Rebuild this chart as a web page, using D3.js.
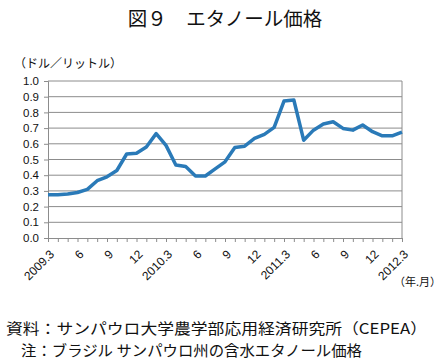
<!DOCTYPE html>
<html>
<head>
<meta charset="utf-8">
<script src="https://d3js.org/d3.v7.min.js"></script>
<style>
  body { margin: 0; background: #fff; }
  text { font-family: "Noto Sans CJK JP", "Noto Sans", sans-serif; fill: #111; }
</style>
</head>
<body>
<div id="chart"></div>
<script>
// monthly values 2009.3 - 2012.3 (USD per litre)
const months = d3.range(37);
const prices = [
  0.275, 0.275, 0.28, 0.29, 0.31, 0.365, 0.39, 0.43, 0.535, 0.54,
  0.58, 0.665, 0.59, 0.465, 0.455, 0.395, 0.395, 0.44, 0.485, 0.577,
  0.585, 0.634, 0.66, 0.705, 0.872, 0.879, 0.623, 0.687, 0.726, 0.74,
  0.698, 0.687, 0.72, 0.677, 0.651, 0.651, 0.675
];
const tickLabels = ["2009.3", "6", "9", "12", "2010.3", "6", "9", "12", "2011.3", "6", "9", "12", "2012.3"];
const yTicks = d3.range(0, 11).map(d => d / 10);

const width = 446, height = 363;
const plotLeft = 48, plotRight = 402, plotTop = 81, plotBottom = 238;

const svg = d3.select("#chart").append("svg")
  .attr("width", width)
  .attr("height", height);

const x = d3.scaleLinear().domain([0, 36]).range([plotLeft, plotRight]);
const y = d3.scaleLinear().domain([0, 1]).range([plotBottom, plotTop]);

// title
svg.append("text")
  .attr("x", 225).attr("y", 26)
  .attr("text-anchor", "middle")
  .style("font-size", "19.5px")
  .text("図９　エタノール価格");

svg.append("text")
  .attr("x", 14).attr("y", 68)
  .style("font-size", "12px")
  .text("（ドル／リットル）");

// grid
svg.append("g")
  .selectAll("line")
  .data(yTicks.slice(1))
  .enter()
  .append("line")
  .attr("x1", plotLeft).attr("x2", plotRight)
  .attr("y1", d => y(d)).attr("y2", d => y(d))
  .attr("stroke", "#8c8c8c")
  .attr("stroke-width", 1);

// right border
svg.append("line")
  .attr("x1", plotRight).attr("x2", plotRight)
  .attr("y1", plotTop).attr("y2", plotBottom)
  .attr("stroke", "#8c8c8c");

// y axis
const yAxis = svg.append("g")
  .attr("transform", "translate(" + plotLeft + ",0)")
  .call(d3.axisLeft(y).tickValues(yTicks).tickFormat(d3.format(".1f")).tickSize(4).tickPadding(5));
yAxis.select(".domain").attr("stroke", "#8c8c8c");
yAxis.selectAll(".tick line").attr("stroke", "#8c8c8c");
yAxis.selectAll("text").style("font-size", "11.5px").style("font-family", "Liberation Sans, sans-serif");

// x axis
const xAxis = svg.append("g")
  .attr("transform", "translate(0," + plotBottom + ")")
  .call(d3.axisBottom(x).tickValues(months).tickSize(4).tickFormat(""));
xAxis.select(".domain").attr("stroke", "#8c8c8c");
xAxis.selectAll(".tick line").attr("stroke", "#8c8c8c");

svg.append("g")
  .selectAll("text")
  .data(tickLabels)
  .enter()
  .append("text")
  .attr("transform", (d, i) => "translate(" + (x(i * 3) + 4) + "," + (plotBottom + 14) + ") rotate(-45)")
  .attr("text-anchor", "end")
  .attr("dy", "0.35em")
  .style("font-size", "12px")
  .style("font-family", "Liberation Sans, sans-serif")
  .text(d => d);

svg.append("text")
  .attr("x", 441).attr("y", 286)
  .attr("text-anchor", "end")
  .style("font-size", "11px")
  .text("（年.月）");

// line
const line = d3.line()
  .x((d, i) => x(months[i]))
  .y(d => y(d));

svg.append("path")
  .datum(prices)
  .attr("fill", "none")
  .attr("stroke", "#2a7ab8")
  .attr("stroke-width", 3.5)
  .attr("stroke-linejoin", "round")
  .attr("d", line);

// notes
svg.append("text")
  .attr("x", 6).attr("y", 334)
  .attr("textLength", 421)
  .attr("lengthAdjust", "spacingAndGlyphs")
  .style("font-size", "15px")
  .text("資料：サンパウロ大学農学部応用経済研究所（CEPEA）");

svg.append("text")
  .attr("x", 21).attr("y", 356)
  .attr("textLength", 341)
  .attr("lengthAdjust", "spacingAndGlyphs")
  .style("font-size", "15px")
  .text("注：ブラジル サンパウロ州の含水エタノール価格");
</script>
</body>
</html>
